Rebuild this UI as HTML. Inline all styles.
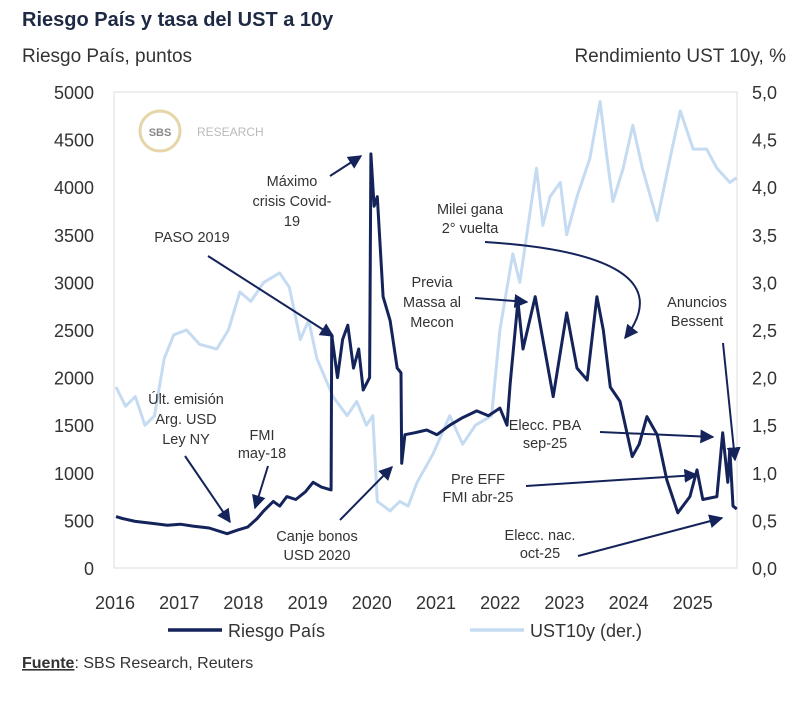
<!DOCTYPE html>
<html><head><meta charset="utf-8"><style>
body{margin:0;background:#fff;width:800px;height:712px;overflow:hidden;font-family:"Liberation Sans",sans-serif}
svg text{font-family:"Liberation Sans",sans-serif}
</style></head><body>
<svg id="chart" width="800" height="712" viewBox="0 0 800 712" xmlns="http://www.w3.org/2000/svg">
<defs><marker id="ah" viewBox="0 0 10 10" refX="9" refY="5" markerWidth="7" markerHeight="7" orient="auto"><path d="M0,0L10,5L0,10z" fill="#14245a"/></marker>
<clipPath id="pc"><rect x="114" y="88" width="624" height="482"/></clipPath></defs>
<text x="22" y="26" font-size="20" font-weight="bold" fill="#1e2a44">Riesgo País y tasa del UST a 10y</text>
<text x="22" y="62" font-size="19" fill="#333">Riesgo País, puntos</text>
<text x="786" y="62" font-size="19" fill="#333" text-anchor="end">Rendimiento UST 10y, %</text>
<rect x="114" y="92" width="623" height="476" fill="none" stroke="#ddd"/>
<g><circle cx="160" cy="131" r="20" fill="none" stroke="#e6d5a8" stroke-width="3"/><text x="160" y="136" font-size="11" font-weight="bold" fill="#888" text-anchor="middle">SBS</text><text x="197" y="136" font-size="12" fill="#bbb">RESEARCH</text></g>
<g id="axes"></g>
<g id="series" clip-path="url(#pc)"></g>
<g id="notes" fill="#333" font-size="14.5" text-anchor="middle">
<g><text x="186" y="404">Últ. emisión</text><text x="186" y="424">Arg. USD</text><text x="186" y="444">Ley NY</text><line x1="185" y1="456" x2="230" y2="522" stroke="#14245a" stroke-width="2" marker-end="url(#ah)"/></g>
<g><text x="262" y="440">FMI</text><text x="262" y="458">may-18</text><line x1="268" y1="466" x2="255" y2="508" stroke="#14245a" stroke-width="2" marker-end="url(#ah)"/></g>
<g><text x="192" y="242">PASO 2019</text><line x1="208" y1="256" x2="333" y2="336" stroke="#14245a" stroke-width="2" marker-end="url(#ah)"/></g>
<g><text x="292" y="186">Máximo</text><text x="292" y="206">crisis Covid-</text><text x="292" y="226">19</text><line x1="330" y1="176" x2="361" y2="156" stroke="#14245a" stroke-width="2" marker-end="url(#ah)"/></g>
<g><text x="317" y="541">Canje bonos</text><text x="317" y="560">USD 2020</text><line x1="340" y1="520" x2="392" y2="467" stroke="#14245a" stroke-width="2" marker-end="url(#ah)"/></g>
<g><text x="470" y="214">Milei gana</text><text x="470" y="233">2° vuelta</text><path d="M485,242 C610,250 670,280 625,338" fill="none" stroke="#14245a" stroke-width="2" marker-end="url(#ah)"/></g>
<g><text x="432" y="287">Previa</text><text x="432" y="307">Massa al</text><text x="432" y="327">Mecon</text><line x1="475" y1="298" x2="527" y2="302" stroke="#14245a" stroke-width="2" marker-end="url(#ah)"/></g>
<g><text x="697" y="307">Anuncios</text><text x="697" y="326">Bessent</text><line x1="723" y1="343" x2="735" y2="460" stroke="#14245a" stroke-width="2" marker-end="url(#ah)"/></g>
<g><text x="545" y="430">Elecc. PBA</text><text x="545" y="448">sep-25</text><line x1="600" y1="432" x2="713" y2="437" stroke="#14245a" stroke-width="2" marker-end="url(#ah)"/></g>
<g><text x="478" y="484">Pre EFF</text><text x="478" y="502">FMI abr-25</text><line x1="526" y1="486" x2="697" y2="475" stroke="#14245a" stroke-width="2" marker-end="url(#ah)"/></g>
<g><text x="540" y="540">Elecc. nac.</text><text x="540" y="558">oct-25</text><line x1="578" y1="556" x2="722" y2="518" stroke="#14245a" stroke-width="2" marker-end="url(#ah)"/></g>
</g>
<g>
<line x1="168" y1="630" x2="222" y2="630" stroke="#14245a" stroke-width="3.5"/><text x="228" y="637" font-size="18" fill="#333">Riesgo País</text>
<line x1="470" y1="630" x2="524" y2="630" stroke="#c5dbf2" stroke-width="3.5"/><text x="530" y="637" font-size="18" fill="#333">UST10y (der.)</text>
</g>
<text x="22" y="668" font-size="16" fill="#333"><tspan font-weight="bold" text-decoration="underline">Fuente</tspan>: SBS Research, Reuters</text>
</svg>
<script>
const yearTicks=[2016,2017,2018,2019,2020,2021,2022,2023,2024,2025];
const leftTicks=[0,500,1000,1500,2000,2500,3000,3500,4000,4500,5000];
const rightTicks=["0,0","0,5","1,0","1,5","2,0","2,5","3,0","3,5","4,0","4,5","5,0"];
const embiDates=[2016.0,2016.1,2016.3,2016.55,2016.8,2017.0,2017.2,2017.45,2017.73,2017.9,2018.05,2018.2,2018.3,2018.45,2018.55,2018.66,2018.8,2018.95,2019.07,2019.2,2019.35,2019.36,2019.45,2019.53,2019.61,2019.7,2019.78,2019.85,2019.95,2019.97,2020.02,2020.07,2020.16,2020.27,2020.38,2020.44,2020.45,2020.5,2020.65,2020.84,2021.0,2021.2,2021.4,2021.62,2021.8,2021.98,2022.09,2022.14,2022.26,2022.34,2022.53,2022.65,2022.81,2023.02,2023.18,2023.34,2023.49,2023.59,2023.7,2023.85,2024.04,2024.15,2024.27,2024.43,2024.58,2024.75,2024.94,2025.05,2025.14,2025.36,2025.45,2025.53,2025.56,2025.61,2025.67];
const embiValues=[540,520,490,470,450,460,440,420,360,400,430,520,600,700,650,750,720,800,900,850,820,2450,2000,2400,2550,2100,2300,1870,2000,4350,3800,3900,2850,2600,2100,2050,1100,1400,1420,1450,1400,1500,1580,1650,1600,1680,1500,1940,2800,2300,2850,2400,1800,2680,2100,1975,2850,2500,1900,1750,1170,1300,1590,1400,925,580,750,1030,720,750,1420,900,1250,650,620];
const ustDates=[2016.0,2016.15,2016.3,2016.45,2016.6,2016.75,2016.9,2017.1,2017.3,2017.57,2017.75,2017.93,2018.1,2018.3,2018.55,2018.7,2018.87,2019.0,2019.13,2019.38,2019.6,2019.75,2019.9,2020.0,2020.07,2020.27,2020.42,2020.55,2020.69,2020.94,2021.2,2021.4,2021.6,2021.85,2021.98,2022.18,2022.29,2022.55,2022.65,2022.76,2022.92,2023.02,2023.18,2023.38,2023.54,2023.65,2023.74,2023.9,2024.05,2024.2,2024.43,2024.63,2024.79,2024.99,2025.2,2025.36,2025.56,2025.67];
const ustValues=[1.9,1.7,1.8,1.5,1.6,2.2,2.45,2.5,2.35,2.3,2.5,2.9,2.8,3.0,3.1,2.95,2.4,2.6,2.2,1.8,1.6,1.75,1.5,1.6,0.7,0.6,0.7,0.65,0.9,1.2,1.6,1.3,1.5,1.6,2.5,3.3,3.0,4.2,3.6,3.9,4.05,3.5,3.9,4.3,4.9,4.3,3.85,4.2,4.65,4.2,3.65,4.3,4.8,4.4,4.4,4.2,4.05,4.1];
const X0=116,PXY=64.2,Y0=568,H=476;
const xS=d=>X0+(d-2016)*PXY;
const yL=v=>Y0-v/5000*H;
const yR=v=>Y0-v/5*H;
const NS="http://www.w3.org/2000/svg";
const axes=document.getElementById('axes'),series=document.getElementById('series');
function mk(tag,attrs,parent,txt){const e=document.createElementNS(NS,tag);for(const k in attrs)e.setAttribute(k,attrs[k]);if(txt!==undefined)e.textContent=txt;parent.appendChild(e);return e;}
yearTicks.forEach(y=>{const t=mk('text',{x:xS(y)-1,y:609,'font-size':18,fill:'#333','text-anchor':'middle'},axes,String(y));

});
leftTicks.forEach(v=>{const t=mk('text',{x:94,y:yL(v)+7,'font-size':18,fill:'#333','text-anchor':'end'},axes,String(v));

});
rightTicks.forEach((s,i)=>{const t=mk('text',{x:752,y:yR(i*0.5)+7,'font-size':18,fill:'#333'},axes,s);

});
const ustPath=mk('path',{d:ustDates.map((d,i)=>(i?'L':'M')+xS(d).toFixed(1)+','+yR(ustValues[i]).toFixed(1)).join(''),fill:'none',stroke:'#c5dbf2','stroke-width':3,'stroke-linejoin':'round'},series);


const embiPath=mk('path',{d:embiDates.map((d,i)=>(i?'L':'M')+xS(d).toFixed(1)+','+yL(embiValues[i]).toFixed(1)).join(''),fill:'none',stroke:'#14245a','stroke-width':3,'stroke-linejoin':'round'},series);


</script>
</body></html>
